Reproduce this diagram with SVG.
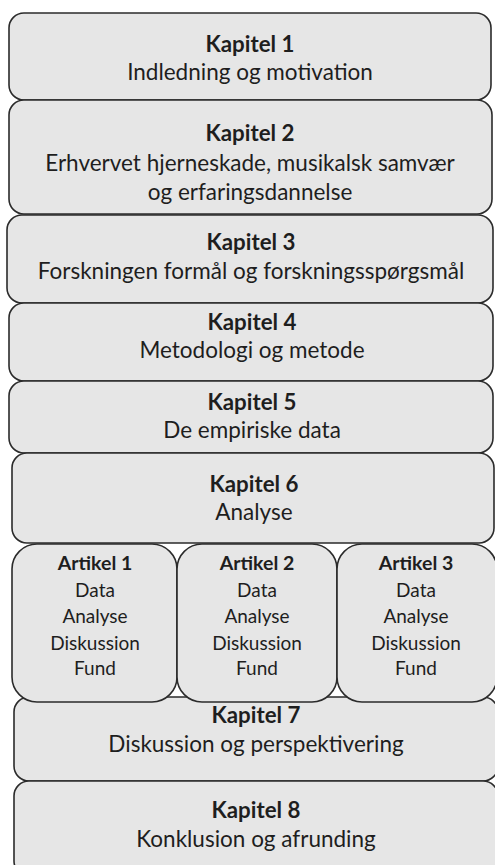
<svg xmlns="http://www.w3.org/2000/svg" width="495" height="865" viewBox="0 0 495 865">
  <style>
    .box { fill: #e6e6e6; stroke: #2b2b2b; stroke-width: 1.6; }
    text { font-family: Lato, "Open Sans", sans-serif; fill: #1e1e1e; text-anchor: middle; }
    .t { font-size: 22.3px; font-weight: bold; }
    .s { font-size: 22.5px; }
    .at { font-size: 19.5px; font-weight: bold; }
    .as { font-size: 19px; }
  </style>
  <rect width="495" height="865" fill="#ffffff"/>

  <g id="kapitel1">
    <rect class="box" x="9" y="13" width="482" height="87" rx="15"/>
    <text class="t" x="250" y="52">Kapitel 1</text>
    <text class="s" x="250" y="80">Indledning og motivation</text>
  </g>

  <g id="kapitel2">
    <rect class="box" x="9" y="100" width="483" height="114" rx="15"/>
    <text class="t" x="250" y="141">Kapitel 2</text>
    <text class="s" x="250" y="171">Erhvervet hjerneskade, musikalsk samvær</text>
    <text class="s" x="250" y="200">og erfaringsdannelse</text>
  </g>

  <g id="kapitel3">
    <rect class="box" x="7" y="215" width="486" height="88" rx="15"/>
    <text class="t" x="251" y="250">Kapitel 3</text>
    <text class="s" x="251" y="279">Forskningen formål og forskningsspørgsmål</text>
  </g>

  <g id="kapitel4">
    <rect class="box" x="9" y="303" width="484" height="78" rx="15"/>
    <text class="t" x="252" y="330">Kapitel 4</text>
    <text class="s" x="252" y="358">Metodologi og metode</text>
  </g>

  <g id="kapitel5">
    <rect class="box" x="9" y="381" width="484" height="72" rx="15"/>
    <text class="t" x="252" y="410">Kapitel 5</text>
    <text class="s" x="252" y="438">De empiriske data</text>
  </g>

  <g id="kapitel6">
    <rect class="box" x="12" y="453" width="482" height="90" rx="15"/>
    <text class="t" x="254" y="492">Kapitel 6</text>
    <text class="s" x="254" y="520">Analyse</text>
  </g>

  <g id="kapitel7">
    <rect class="box" x="14" y="697" width="484" height="84" rx="15"/>
    <text class="t" x="256" y="723">Kapitel 7</text>
    <text class="s" x="256" y="752">Diskussion og perspektivering</text>
  </g>

  <g id="artikel1">
    <rect class="box" x="12" y="544" width="165" height="158" rx="25"/>
    <text class="at" x="95" y="570">Artikel 1</text>
    <text class="as" x="95" y="597">Data</text>
    <text class="as" x="95" y="623">Analyse</text>
    <text class="as" x="95" y="650">Diskussion</text>
    <text class="as" x="95" y="675">Fund</text>
  </g>

  <g id="artikel2">
    <rect class="box" x="177" y="544" width="160" height="158" rx="25"/>
    <text class="at" x="257" y="570">Artikel 2</text>
    <text class="as" x="257" y="597">Data</text>
    <text class="as" x="257" y="623">Analyse</text>
    <text class="as" x="257" y="650">Diskussion</text>
    <text class="as" x="257" y="675">Fund</text>
  </g>

  <g id="artikel3">
    <rect class="box" x="337" y="544" width="160" height="158" rx="25"/>
    <text class="at" x="416" y="570">Artikel 3</text>
    <text class="as" x="416" y="597">Data</text>
    <text class="as" x="416" y="623">Analyse</text>
    <text class="as" x="416" y="650">Diskussion</text>
    <text class="as" x="416" y="675">Fund</text>
  </g>

  <g id="kapitel8">
    <rect class="box" x="14" y="781" width="484" height="95" rx="15"/>
    <text class="t" x="256" y="818">Kapitel 8</text>
    <text class="s" x="256" y="847">Konklusion og afrunding</text>
  </g>

  <g id="connectors"></g>
</svg>
